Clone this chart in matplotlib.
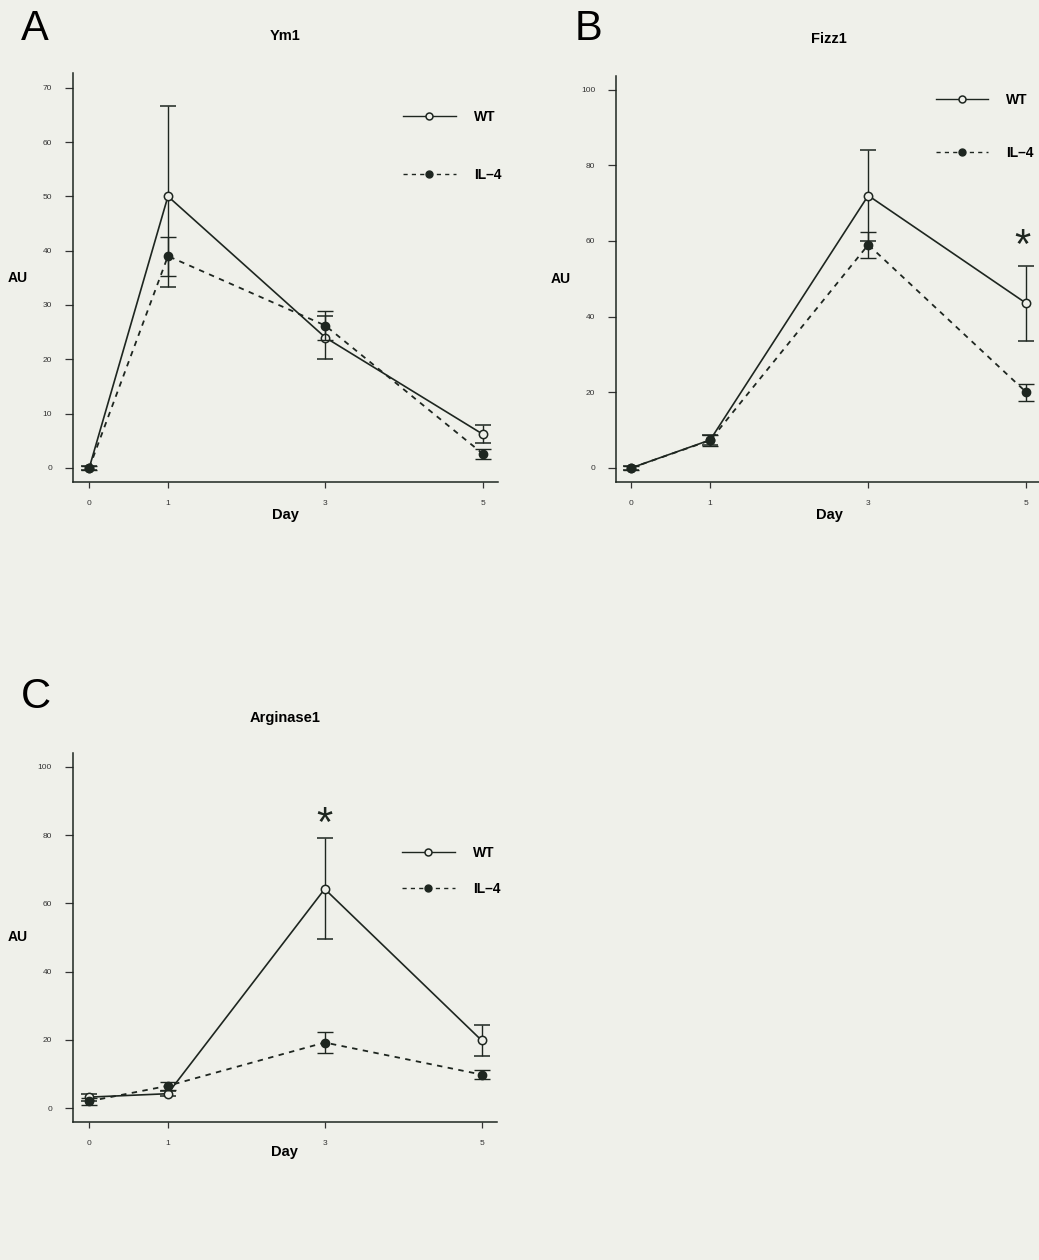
import matplotlib
matplotlib.use('Agg')
import matplotlib.pyplot as plt

plt.rcParams['font.family'] = ['Liberation Sans', 'DejaVu Sans']

days = [0, 1, 3, 5]

# panel A - Ym1
ym1_wt = [0, 50, 24, 6.2]
ym1_wt_err = [0.4, 16.7, 4.0, 1.7]
ym1_il4 = [0, 39, 26.2, 2.6]
ym1_il4_err = [0.4, 3.6, 2.6, 0.9]

# panel B - Fizz1
fizz1_wt = [0, 7.4, 72, 43.5]
fizz1_wt_err = [0.5, 1.4, 12, 10]
fizz1_il4 = [0, 7.3, 59, 20]
fizz1_il4_err = [0.5, 1.4, 3.4, 2.2]

# panel C - Arginase1
arg1_wt = [3.2, 4.2, 64.2, 19.8]
arg1_wt_err = [1.0, 0.7, 14.8, 4.6]
arg1_il4 = [2.0, 6.5, 19.2, 9.8]
arg1_il4_err = [1.0, 1.2, 3.2, 1.3]

BG = '#eff0ea'
INK = '#1e2620'

fig = plt.figure(figsize=(10.39, 12.6), dpi=100, facecolor=BG)


def panel(rect, title, wt, wt_err, il4, il4_err, yticks, ylim, xlim,
          leg_anchor, leg_spacing, star_day=None, star_y=None):
    ax = fig.add_axes(rect)
    ax.patch.set_alpha(0)
    wt_c = ax.errorbar(days, wt, yerr=wt_err, color=INK, lw=1.2, ls='-',
                       marker='o', ms=6, mfc=BG, mec=INK, mew=1.1,
                       capsize=5.5, elinewidth=1.0, capthick=1.0, zorder=3)
    il4_c = ax.errorbar(days, il4, yerr=il4_err, color=INK, lw=1.3, ls=(0, (3, 3)),
                        marker='o', ms=6, mfc=INK, mec=INK,
                        capsize=5.5, elinewidth=1.0, capthick=1.0, zorder=4)
    ax.set_xlim(*xlim)
    ax.set_ylim(*ylim)
    ax.set_xticks(days)
    ax.set_yticks(yticks)
    ax.spines['top'].set_visible(False)
    ax.spines['right'].set_visible(False)
    for s in ('left', 'bottom'):
        ax.spines[s].set_color(INK)
        ax.spines[s].set_linewidth(1.1)
    ax.tick_params(axis='y', length=6, width=0.9, pad=9, labelsize=6,
                   colors='#333333')
    ax.tick_params(axis='x', length=4, width=0.9, pad=9, labelsize=6,
                   colors='#333333')
    ax.set_title(title, fontsize=10.5, fontweight='bold', y=1.06)
    ax.set_ylabel('AU', rotation=0, fontsize=10, fontweight='bold',
                  va='center', ha='center')
    ax.yaxis.set_label_coords(-0.13, 0.5)
    ax.set_xlabel('Day', fontsize=10.5, fontweight='bold', va='center')
    ax.xaxis.set_label_coords(0.5, -0.082)
    leg = ax.legend(handles=[wt_c.lines[0], il4_c.lines[0]],
                    labels=['WT', 'IL\u20134'],
                    loc='upper left', bbox_to_anchor=leg_anchor, frameon=False,
                    borderpad=0, borderaxespad=0, handlelength=3.8,
                    handletextpad=1.3, labelspacing=leg_spacing,
                    prop={'weight': 'bold', 'size': 10}, numpoints=1)
    for h in leg.legend_handles:
        h.set_linewidth(1.0)
        h.set_markersize(5)
    if star_day is not None:
        ax.text(star_day, star_y, '*', fontsize=30, ha='center', va='center',
                color=INK)
    return ax


panel([0.070, 0.6175, 0.409, 0.3245], 'Ym1', ym1_wt, ym1_wt_err, ym1_il4,
      ym1_il4_err, range(0, 71, 10), (-2.6, 72.7), (-0.21, 5.19),
      (0.777, 0.91), 3.2)
panel([0.593, 0.6175, 0.410, 0.3225], 'Fizz1', fizz1_wt, fizz1_wt_err,
      fizz1_il4, fizz1_il4_err, range(0, 101, 20), (-3.7, 103.7), (-0.19, 5.2),
      (0.75, 0.958), 2.8, star_day=4.95, star_y=58.5)
panel([0.070, 0.1095, 0.408, 0.293], 'Arginase1', arg1_wt, arg1_wt_err,
      arg1_il4, arg1_il4_err, range(0, 101, 20), (-4.1, 104.1), (-0.21, 5.19),
      (0.777, 0.748), 1.6, star_day=3, star_y=83)

fig.text(0.020, 0.977, 'A', fontsize=30, va='center', ha='left')
fig.text(0.553, 0.977, 'B', fontsize=30, va='center', ha='left')
fig.text(0.020, 0.447, 'C', fontsize=30, va='center', ha='left')

fig.savefig('out.png', dpi=100, facecolor=BG)
